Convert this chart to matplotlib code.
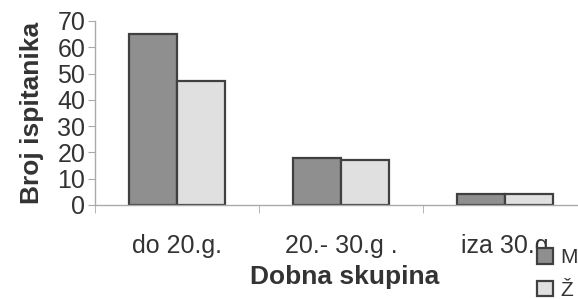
import numpy as np
import matplotlib.pyplot as plt
from matplotlib.ticker import FixedLocator

plt.rcParams['font.family'] = ['Liberation Sans', 'DejaVu Sans']

categories = ['do 20.g.', '20.- 30.g .', 'iza 30.g']
m_values = [65, 18, 4]
z_values = [47, 17, 4]
series_names = ['M', 'Ž']

txt = '#333333'
fig = plt.figure(figsize=(5.78, 2.99), dpi=100)
ax = fig.add_axes([95 / 578, 94 / 299, 492 / 578, 184 / 299])

x = np.arange(len(categories))
w = 0.29
ax.bar(x - w / 2, m_values, w, color='#8f8f8f', edgecolor='#404040', linewidth=1.6, label=series_names[0])
ax.bar(x + w / 2, z_values, w, color='#e0e0e0', edgecolor='#404040', linewidth=1.6, label=series_names[1])

ax.set_xlim(-0.5, len(categories) - 0.5)
ax.set_ylim(0, 70)
ax.set_yticks(range(0, 71, 10))
ax.set_xticks(x)
ax.set_xticklabels(categories, fontsize=18, color=txt)
ax.xaxis.set_minor_locator(FixedLocator([-0.5, 0.5, 1.5]))
ax.tick_params(axis='x', which='major', length=0, pad=21)
ax.tick_params(axis='x', which='minor', length=6, color='#aaaaaa', direction='out')
ax.tick_params(axis='y', labelsize=18, labelcolor=txt, length=5, color='#aaaaaa', pad=2)

for s in ['top', 'right']:
    ax.spines[s].set_visible(False)
for s in ['left', 'bottom']:
    ax.spines[s].set_color('#aaaaaa')
    ax.spines[s].set_linewidth(1)

ax.set_xlabel('Dobna skupina', fontsize=19, fontweight='bold', color=txt)
ax.xaxis.set_label_coords((345 - 95) / 492, -60 / 184)
ax.set_ylabel('Broj ispitanika', fontsize=19, fontweight='bold', color=txt)
ax.yaxis.set_label_coords(-51 / 492, 0.5)

fig.legend(loc='center left', bbox_to_anchor=(537 / 578, 1 - 274 / 299), frameon=False,
           fontsize=15, labelcolor=txt, handlelength=0.75, handleheight=0.75,
           handletextpad=0.35, labelspacing=0.65, borderaxespad=0, borderpad=0)

fig.savefig('out.png', dpi=100)
